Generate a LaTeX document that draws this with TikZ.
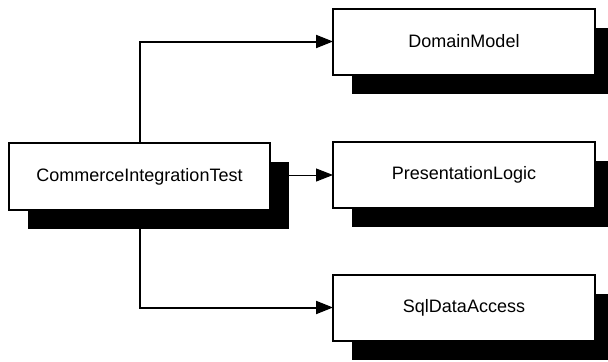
\documentclass[tikz,border=0pt]{standalone}
\usepackage{fontspec}
\setmainfont{Liberation Sans}
\usetikzlibrary{arrows.meta,shadows}
\pgfdeclarelayer{bg}
\pgfsetlayers{bg,main}
\tikzset{
  box/.style={draw=black, line width=2bp, fill=white, minimum width=262bp, minimum height=66bp,
    inner sep=0pt, outer sep=0pt,
    font=\fontsize{18bp}{22bp}\selectfont,
    drop shadow={shadow xshift=19bp, shadow yshift=-19bp, fill=black, opacity=1}},
  mainbox/.style={box, minimum width=261bp, minimum height=67bp},
  link/.style={draw=black, line width=2bp, -{Triangle[length=17bp,width=13bp]}},
  thinlink/.style={draw=black, line width=1bp, -{Triangle[length=17bp,width=13bp]}}
}
\begin{document}
\begin{tikzpicture}[x=1bp,y=-1bp]
\clip (0,0) rectangle (608,361);
\node[mainbox] (main) at (139.5,176.5) {CommerceIntegrationTest};
\node[box] (dom) at (464,41.5) {DomainModel};
\node[box] (pres) at (464,175) {PresentationLogic};
\node[box] (sql) at (464,307.5) {SqlDataAccess};
\begin{pgfonlayer}{bg}
\draw[link] (main.north) |- (dom.west);
\draw[link] (main.south) |- (sql.west);
\draw[thinlink] (main.east |- pres.west) -- (pres.west);
\end{pgfonlayer}
\end{tikzpicture}
\end{document}
